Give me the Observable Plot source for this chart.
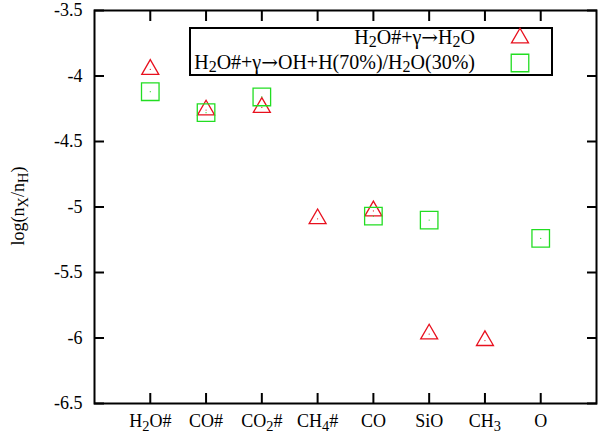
<!DOCTYPE html>
<html><head><meta charset="utf-8">
<script src="https://cdn.jsdelivr.net/npm/d3@7"></script>
<script src="https://cdn.jsdelivr.net/npm/@observablehq/plot@0.6"></script>
<style>body{margin:0;background:#fff} #chart{width:600px;height:436px;position:relative}</style>
</head><body><div id="chart"></div>
<script>
// Species (x categories)
const categories = ["H2O#", "CO#", "CO2#", "CH4#", "CO", "SiO", "CH3", "O"];
// Series labels
const seriesLabels = ["H2O#+γ→H2O", "H2O#+γ→OH+H(70%)/H2O(30%)"];
// log(nX/nH) values (null = not plotted)
const seriesH2O = [-3.95, -4.26, -4.24, -5.09, -5.03, -5.97, -6.02, null];
const seriesOHH = [-4.12, -4.28, -4.16, null, -5.07, -5.10, null, -5.24];
const yTicks = [-6.5, -6, -5.5, -5, -4.5, -4, -3.5];
const xTicks = categories.map((_, i) => i + 1);
const colors = ["#e8101e", "#22dd22"];

const dataA = [], dataB = [];
categories.forEach((c, i) => {
  if (seriesH2O[i] != null) dataA.push({x: i + 1, y: seriesH2O[i], name: c});
  if (seriesOHH[i] != null) dataB.push({x: i + 1, y: seriesOHH[i], name: c});
});

const plot = Plot.plot({
  width: 600, height: 436,
  marginLeft: 94, marginRight: 4, marginTop: 10, marginBottom: 33,
  style: {fontFamily: "Liberation Serif", fontSize: "18px", background: "white", color: "black"},
  x: {domain: [0, 9], axis: null},
  y: {domain: [-6.5, -3.5], axis: null},
  marks: [
    Plot.dot(dataA, {x: "x", y: "y", symbol: "triangle", r: 6.3, stroke: colors[0], strokeWidth: 1.3, fill: "none"}),
    Plot.dot(dataA, {x: "x", y: "y", r: 0.6, fill: colors[0]}),
    Plot.dot(dataB, {x: "x", y: "y", symbol: "square", r: 9.9, stroke: colors[1], strokeWidth: 1.3, fill: "none"}),
    Plot.dot(dataB, {x: "x", y: "y", r: 0.6, fill: colors[1]}),
    Plot.axisX(xTicks, {anchor: "bottom", tickSize: -10, strokeWidth: 2, fill: "none", label: null}),
    Plot.axisX(xTicks, {anchor: "top", tickSize: -10, strokeWidth: 2, fill: "none", label: null}),
    Plot.axisY(yTicks, {anchor: "left", tickSize: -10, strokeWidth: 2, fill: "none", label: null}),
    Plot.axisY(yTicks, {anchor: "right", tickSize: -10, strokeWidth: 2, fill: "none", label: null}),
    Plot.axisX(xTicks, {anchor: "bottom", tickSize: 0, tickPadding: 11, tickFormat: i => categories[i - 1], label: null}),
    Plot.axisY(yTicks, {anchor: "left", tickSize: 0, tickPadding: 12, tickFormat: d => String(d), label: null}),
    Plot.frame({stroke: "black", strokeWidth: 2})
  ]
});
document.getElementById("chart").appendChild(plot);

// helper: write chemistry text with subscripted digits and a long arrow
function chem(sel, str, sub = 4, subSize = "80%") {
  const tokens = [];
  const re = /([A-Za-z])(\d)|(→)/g;
  let last = 0, m;
  while ((m = re.exec(str))) {
    if (m[3]) {
      tokens.push({t: str.slice(last, m.index), k: "n"});
      tokens.push({t: "→", k: "a"});
      last = m.index + 1;
    } else {
      tokens.push({t: str.slice(last, m.index + 1), k: "n"});
      tokens.push({t: m[2], k: "s"});
      last = m.index + 2;
    }
  }
  tokens.push({t: str.slice(last), k: "n"});
  let shifted = false;
  tokens.forEach(tok => {
    if (!tok.t) return;
    const ts = sel.append("tspan").text(tok.t);
    if (tok.k === "s") { ts.attr("dy", sub).attr("font-size", subSize); shifted = true; }
    else {
      if (shifted) { ts.attr("dy", -sub); shifted = false; }
      if (tok.k === "a") ts.attr("font-family", "DejaVu Serif").attr("font-size", "100%");
    }
  });
}

const svg = d3.select(plot);
svg.selectAll("text").attr("font-family", "Liberation Serif").attr("font-size", 18);
svg.selectAll('g[aria-label="x-axis tick label"] text').each(function () {
  const t = this.textContent;
  this.textContent = "";
  chem(d3.select(this), t);
});

// y-axis label
const yl = svg.append("text")
  .attr("transform", "translate(24,206) rotate(-90)")
  .attr("text-anchor", "middle")
  .attr("font-family", "Liberation Serif").attr("font-size", 18);
yl.append("tspan").text("log(n");
yl.append("tspan").attr("dy", 4).attr("font-size", "80%").text("X");
yl.append("tspan").attr("dy", -4).text("/n");
yl.append("tspan").attr("dy", 4).attr("font-size", "80%").text("H");
yl.append("tspan").attr("dy", -4).text(")");

// legend
const lg = svg.append("g").attr("font-family", "Liberation Serif").attr("font-size", 20);
lg.append("rect").attr("x", 190).attr("y", 28).attr("width", 362).attr("height", 47)
  .attr("fill", "white").attr("stroke", "black").attr("stroke-width", 2);
const symbols = [d3.symbolTriangle, d3.symbolSquare];
const sizes = [Math.PI * 6.3 * 6.3, Math.PI * 9.9 * 9.9];
[[44, 38], [69, 63]].forEach(([by, my], i) => {
  const t = lg.append("text").attr("x", 475).attr("y", by).attr("text-anchor", "end");
  chem(t, seriesLabels[i], 3);
  lg.append("path").attr("transform", `translate(520,${my})`)
    .attr("d", d3.symbol(symbols[i], sizes[i])())
    .attr("fill", "none").attr("stroke", colors[i]).attr("stroke-width", 1.3);
});
</script>
</body></html>
